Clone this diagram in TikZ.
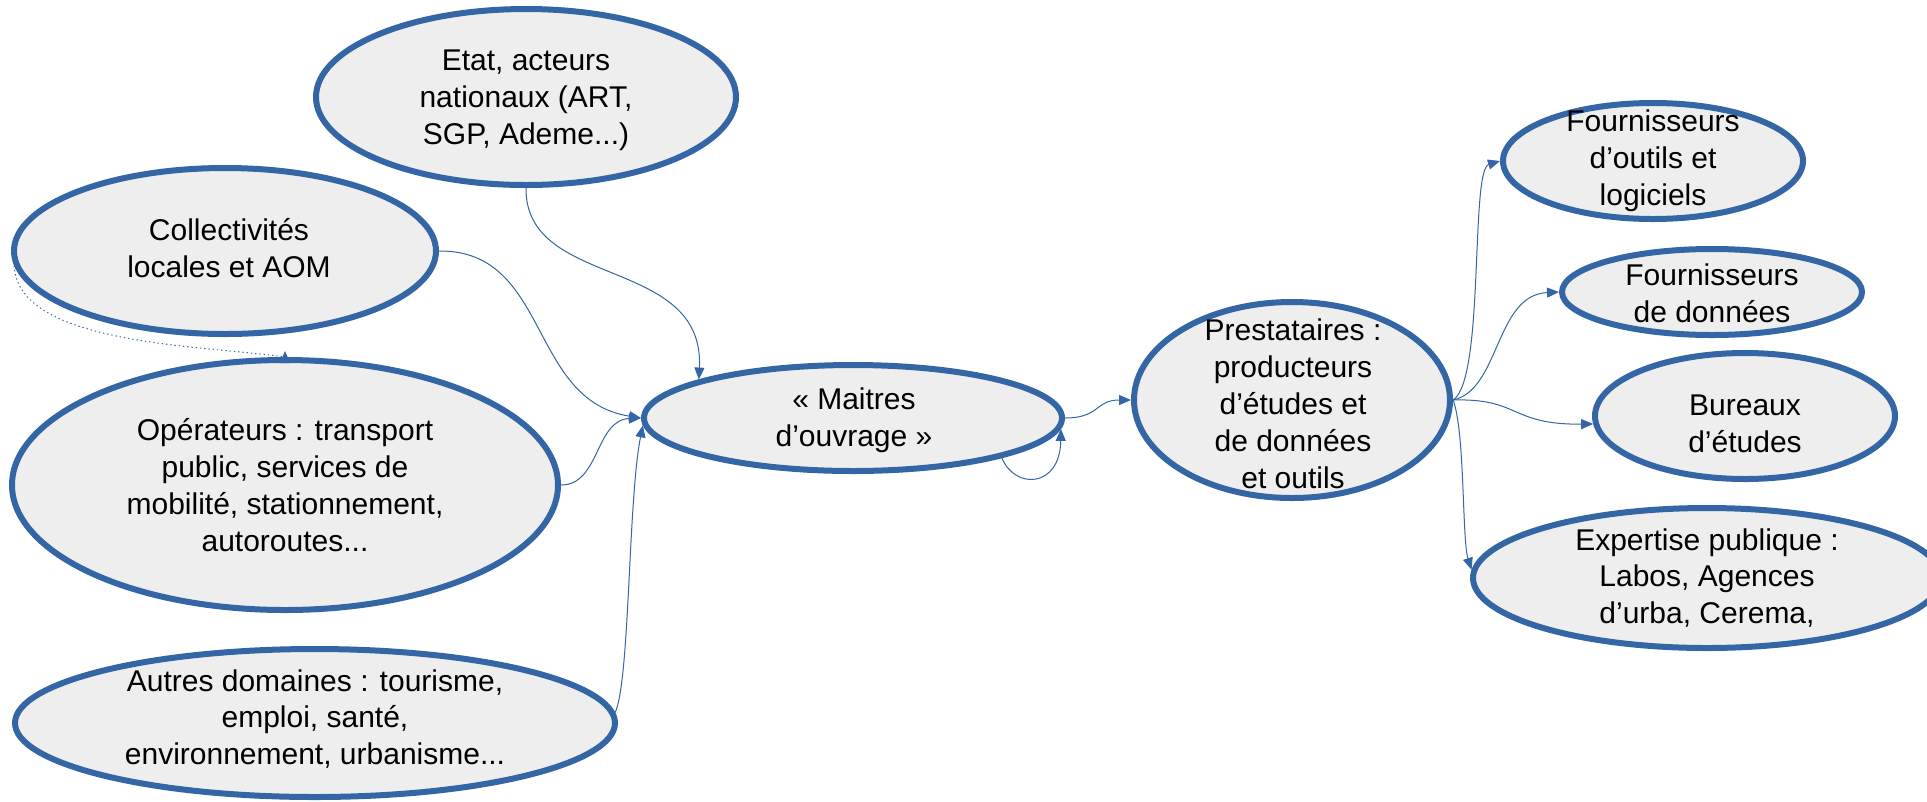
\documentclass[tikz,border=0pt]{standalone}
\usepackage{fontspec}
\setmainfont{Liberation Sans}
\usetikzlibrary{shapes.geometric,arrows.meta}
\definecolor{edgeblue}{RGB}{52,101,164}
\definecolor{fillgrey}{RGB}{238,238,238}
\tikzset{every picture/.style={line width=0.75pt}}
\tikzset{
  actor/.style={ellipse, draw=edgeblue, fill=fillgrey, line width=4.5pt, inner sep=0pt},
  lbl/.style={align=center, inner sep=0.75pt, font=\fontsize{22.5}{27.7}\selectfont},
  conn/.style={draw=edgeblue, line width=0.75pt, -{Triangle[length=9pt,width=7.5pt]}},
  dotconn/.style={conn, dash pattern=on 1pt off 2.2pt},
}
\begin{document}
\begin{tikzpicture}[x=0.75pt,y=0.75pt,yscale=-1,xscale=1]
	\useasboundingbox (0,0) rectangle (1927,801);
	
	%Shape: Ellipse [etat]
	\node [actor, minimum width=315pt, minimum height=132pt] (etat) at (526,97) {};
	%Shape: Ellipse [coll]
	\node [actor, minimum width=316.5pt, minimum height=124.5pt] (coll) at (225,251) {};
	%Shape: Ellipse [oper]
	\node [actor, minimum width=409.5pt, minimum height=187.5pt] (oper) at (285,485) {};
	%Shape: Ellipse [autres]
	\node [actor, minimum width=450pt, minimum height=111pt] (autres) at (315,723) {};
	%Shape: Ellipse [maitres]
	\node [actor, minimum width=313.5pt, minimum height=79.5pt] (maitres) at (853,418) {};
	%Shape: Ellipse [prest]
	\node [actor, minimum width=237pt, minimum height=147pt] (prest) at (1292,400) {};
	%Shape: Ellipse [fouts]
	\node [actor, minimum width=225pt, minimum height=87pt] (fouts) at (1653,161) {};
	%Shape: Ellipse [fdon]
	\node [actor, minimum width=225pt, minimum height=64.5pt] (fdon) at (1712,292) {};
	%Shape: Ellipse [bur]
	\node [actor, minimum width=225pt, minimum height=94.5pt] (bur) at (1745,416) {};
	%Shape: Ellipse [exp]
	\node [actor, minimum width=351pt, minimum height=105pt] (exp) at (1707,578) {};
	
	% Text Node
	\node [lbl] (etat-t) at (526,100) {Etat, acteurs\\nationaux (ART,\\SGP, Ademe...)};
	% Text Node
	\node [lbl] (coll-t) at (229,248) {Collectivités\\locales et AOM};
	% Text Node
	\node [lbl] (oper-t) at (285,485) {Opérateurs : transport\\public, services de\\mobilité, stationnement,\\autoroutes...};
	% Text Node
	\node [lbl] (autres-t) at (315,719) {Autres domaines : tourisme,\\emploi, santé,\\environnement, urbanisme...};
	% Text Node
	\node [lbl] (maitres-t) at (854,420) {« Maitres\\d’ouvrage »};
	% Text Node
	\node [lbl] (prest-t) at (1293,404) {Prestataires :\\producteurs\\d’études et\\de données\\et outils};
	% Text Node
	\node [lbl] (fouts-t) at (1653,161) {Fournisseurs\\d’outils et\\logiciels};
	% Text Node
	\node [lbl] (fdon-t) at (1712,293) {Fournisseurs\\de données};
	% Text Node
	\node [lbl] (bur-t) at (1745,424) {Bureaux\\d’études};
	% Text Node
	\node [lbl] (exp-t) at (1707,578) {Expertise publique :\\Labos, Agences\\d’urba, Cerema,};
	
	%Curve Lines [etat -> maitres]
	\draw [conn] (etat.south) .. controls (525,290) and (705,255) .. (maitres.166) ;
	%Curve Lines [coll -> maitres]
	\draw [conn] (coll.east) .. controls (550,250) and (528,400) .. (maitres.west) ;
	%Curve Lines [oper -> maitres]
	\draw [conn] (oper.east) .. controls (600,485) and (595,420) .. (maitres.west) ;
	%Curve Lines [autres -> maitres]
	\draw [conn] (autres.2) .. controls (630,680) and (628,500) .. (maitres.182) ;
	%Curve Lines [maitres loop]
	\draw [conn] (maitres.345) .. controls (1015,490) and (1060,488) .. (maitres.357) ;
	%Curve Lines [maitres -> prest]
	\draw [conn] (maitres.east) .. controls (1100,418) and (1095,400) .. (prest.west) ;
	%Curve Lines [prest -> fouts]
	\draw [conn] (prest.east) .. controls (1485,380) and (1470,170) .. (fouts.west) ;
	%Curve Lines [prest -> fdon]
	\draw [conn] (prest.east) .. controls (1500,390) and (1495,295) .. (fdon.west) ;
	%Curve Lines [prest -> bur]
	\draw [conn] (prest.east) .. controls (1520,398) and (1510,425) .. (bur.183) ;
	%Curve Lines [prest -> exp]
	\draw [conn] (prest.east) .. controls (1465,430) and (1462,540) .. (exp.178) ;
	%Curve Lines [coll -> oper, dotted]
	\draw [dotconn] (coll.184) .. controls (18,345) and (200,345) .. (oper.north) -- ++(0,-6) ;
	
\end{tikzpicture}
\end{document}
